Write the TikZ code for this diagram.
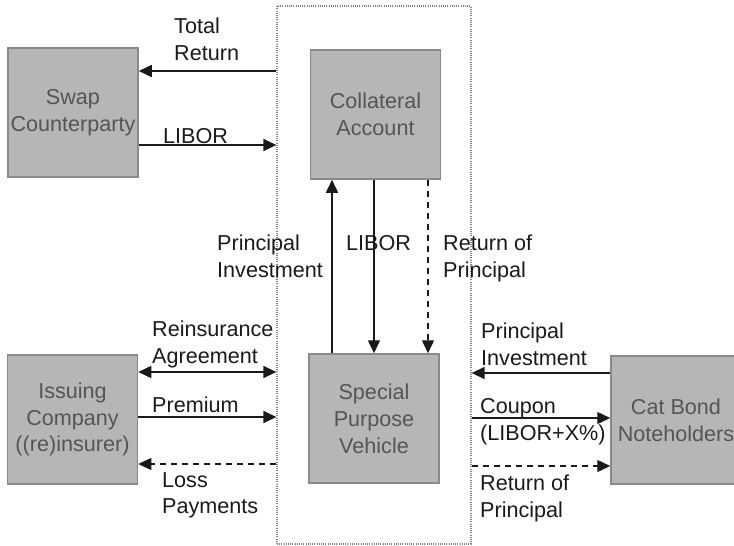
\documentclass[tikz,border=0pt]{standalone}
\usepackage{fontspec}
\setmainfont{Liberation Sans}
\usetikzlibrary{arrows.meta}
\definecolor{boxfill}{HTML}{B6B6B6}
\definecolor{boxedge}{HTML}{8A8A8A}
\definecolor{boxtext}{HTML}{555555}
\definecolor{ink}{HTML}{1A1A1A}
\begin{document}
\begin{tikzpicture}[x=1pt,y=-1pt,
  every node/.style={font=\fontsize{21.6}{26.8}\selectfont},
  party/.style={draw=boxedge,line width=1.5pt,fill=boxfill,text=boxtext,
    align=center,inner sep=0pt,minimum width=130pt,minimum height=129pt},
  lbl/.style={text=ink,align=left,inner sep=0pt,anchor=north west},
  tip/.style={},
  flow/.style={draw=ink,line width=1.4pt,-{Triangle[length=13pt,width=12pt]}},
  both/.style={draw=ink,line width=1.4pt,{Triangle[length=13pt,width=12pt]}-{Triangle[length=13pt,width=12pt]}},
  back/.style={flow,dash pattern=on 6pt off 5pt},
  frame/.style={draw=gray,line width=1.3pt,dash pattern=on 1pt off 1.2pt,inner sep=0pt}]
\useasboundingbox (0,0) rectangle (734,546);

% transaction boundary around the SPV and its collateral account
\node[frame,minimum width=194pt,minimum height=538pt] (frame) at (374,275) {};

% parties
\node[party] (swap)   at (73,112.5)  {Swap\\Counterparty};
\node[party] (coll)   at (375.5,114.5) {Collateral\\Account};
\node[party] (spv)    at (374,418.5) {Special\\Purpose\\Vehicle};
\node[party] (issuer) at (72.5,419.5) {Issuing\\Company\\((re)insurer)};
\node[party,minimum height=128pt] (cat) at (676,420) {Cat Bond\\Noteholders};

% swap leg
\draw[flow] (frame.west |- 0,71) -- (swap.east |- 0,71);
\draw[flow] (swap.east |- 0,145) -- (frame.west |- 0,145);
\node[lbl] (ltr) at (174,18) {Total\\Return};
\node[lbl] (llib1) at (163,128) {LIBOR};

% collateral account flows
\draw[flow] (spv.north -| 332,0) -- (coll.south -| 332,0);
\draw[flow] (coll.south -| 374,0) -- (spv.north -| 374,0);
\draw[back] (coll.south -| 428,0) -- (spv.north -| 428,0);
\node[lbl] (lpi1) at (217,235) {Principal\\Investment};
\node[lbl] (llib2) at (346,235) {LIBOR};
\node[lbl] (lrp1) at (443,235) {Return of\\Principal};

% issuer side
\draw[both] (issuer.east |- 0,372) -- (frame.west |- 0,372);
\draw[flow] (issuer.east |- 0,417) -- (frame.west |- 0,417);
\draw[back] (frame.west |- 0,464) -- (issuer.east |- 0,464);
\node[lbl] (lra) at (152,321) {Reinsurance\\Agreement};
\node[lbl] (lprem) at (152,397) {Premium};
\node[lbl] (lloss) at (162,472) {Loss\\Payments};

% investor side
\draw[flow] (cat.west |- 0,373) -- (frame.east |- 0,373);
\draw[flow] (frame.east |- 0,418) -- (cat.west |- 0,418);
\draw[back] (frame.east |- 0,466) -- (cat.west |- 0,466);
\node[lbl] (lpi2) at (481,323) {Principal\\Investment};
\node[lbl] (lcoup) at (480,398) {Coupon\\(LIBOR+X\%)};
\node[lbl] (lrp2) at (480,475) {Return of\\Principal};
\end{tikzpicture}
\end{document}
